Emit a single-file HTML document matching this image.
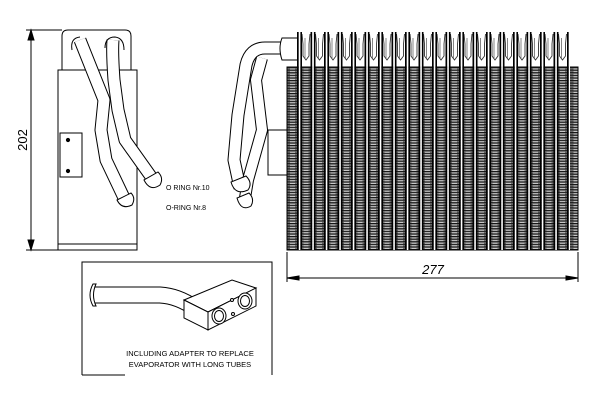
<!DOCTYPE html>
<html><head><style>
html,body{margin:0;padding:0;background:#fff;width:600px;height:400px;overflow:hidden}
svg{display:block}
text{font-family:"Liberation Sans",sans-serif}
</style></head><body>
<svg width="600" height="400" viewBox="0 0 600 400" xmlns="http://www.w3.org/2000/svg">
<defs>
<pattern id="fin" x="287" y="67" width="13.5" height="2.6" patternUnits="userSpaceOnUse">
<rect width="13.5" height="2.6" fill="#6e6e6e"/>
<rect y="0" width="13.5" height="1" fill="#111"/>
<rect x="3" y="1.6" width="5" height="0.9" fill="#ddd"/>
</pattern>
<pattern id="tube" x="297" y="0" width="13.5" height="400" patternUnits="userSpaceOnUse">
<rect x="0" y="0" width="1.8" height="400" fill="#000"/>
<rect x="1.8" y="0" width="1.6" height="400" fill="#fff"/>
<rect x="3.4" y="0" width="1.6" height="400" fill="#000"/>
</pattern>
<pattern id="hdr" x="297" y="32" width="13.5" height="30" patternUnits="userSpaceOnUse">
<path d="M5 2 L6 12 L6 24 L9 28 L12 24 L12 12 L13 2" fill="none" stroke="#333" stroke-width="0.9"/>
<line x1="8" y1="6" x2="8" y2="26" stroke="#777" stroke-width="0.9"/>
</pattern>
</defs>
<!-- LEFT VIEW -->
<g stroke="#000" fill="none" stroke-width="1">
<line x1="31" y1="30" x2="31" y2="250"/>
<path d="M28 40 L31 30 L34 40 Z M28 240 L31 250 L34 240 Z" fill="#000"/>
<line x1="26" y1="30" x2="62" y2="30"/>
<line x1="26" y1="250" x2="58" y2="250"/>
<path d="M62 70 L62 36 Q62 30 68 30 L125 30 Q131 30 131 36 L131 70"/>
<rect x="58" y="70" width="79" height="180" fill="#fff"/>
<line x1="58" y1="244" x2="137" y2="244"/>
<rect x="60" y="133" width="22" height="44"/>
<circle cx="68" cy="140" r="1.6" fill="#000"/>
<circle cx="68" cy="171" r="1.6" fill="#000"/>
</g>
<g fill="none" stroke-linejoin="round" stroke-linecap="butt">
<path d="M113 40 Q112 52 114 80 L118 110 L125 140 L152 178" stroke="#000" stroke-width="13"/>
<path d="M113 40 Q112 52 114 80 L118 110 L125 140 L152 178" stroke="#fff" stroke-width="11"/>
<path d="M80 40 L104 100 L101 130 L106 160 L125 200" stroke="#000" stroke-width="13"/>
<path d="M80 40 L104 100 L101 130 L106 160 L125 200" stroke="#fff" stroke-width="11"/>
<path d="M72 50 Q70 38 80 37 M105 48 Q105 37 115 37 Q124 38 124 50" stroke="#000" stroke-width="1"/>
</g>
<g stroke="#000" fill="#fff" stroke-width="1">
<path d="M144 180 Q150 192 160 185 Q164 178 158 172 Z"/>
<path d="M117 200 Q122 210 132 205 Q136 198 131 193 Z"/>
</g>
<text x="0" y="0" transform="translate(27,140) rotate(-90)" font-size="13" text-anchor="middle" fill="#000">202</text>
<text x="166" y="190" font-size="7" fill="#000">O RING Nr.10</text>
<text x="166" y="210" font-size="7" fill="#000">O-RING Nr.8</text>
<!-- core side tubes -->
<g stroke="#000" fill="none" stroke-width="1">
<rect x="268" y="130" width="20" height="45"/>
</g>
<g fill="none" stroke-linejoin="round">
<path d="M298 48 L265 48 Q250 48 246 65 L238 115 L234 160 L240 188" stroke="#000" stroke-width="13"/>
<path d="M298 48 L265 48 Q250 48 246 65 L238 115 L234 160 L240 188" stroke="#fff" stroke-width="11"/>
<path d="M262 58 L256 80 L262 130 L248 180 L245 198" stroke="#000" stroke-width="12"/>
<path d="M262 58 L256 80 L262 130 L248 180 L245 198" stroke="#fff" stroke-width="10"/>
</g>
<g stroke="#000" fill="#fff" stroke-width="1">
<path d="M282 38 Q278 48 282 60 L298 60 L298 38 Z"/>
<path d="M231 182 Q235 196 248 190 Q253 183 246 176 Z"/>
<path d="M237 198 Q241 212 251 206 Q255 199 249 193 Z"/>
</g>
<!-- core -->
<rect x="287" y="67" width="291" height="183" fill="url(#fin)" stroke="#000" stroke-width="1"/>
<rect x="297" y="32" width="273" height="30" fill="url(#hdr)"/>
<rect x="297" y="32" width="273" height="218" fill="url(#tube)"/>
<!-- dim 277 -->
<g stroke="#000" stroke-width="1">
<line x1="287" y1="252" x2="287" y2="282"/>
<line x1="578" y1="252" x2="578" y2="282"/>
<line x1="287" y1="278" x2="578" y2="278"/>
<path d="M287 278 L299 276 L299 280 Z M578 278 L566 276 L566 280 Z" fill="#000"/>
</g>
<text x="433" y="274" font-size="13" text-anchor="middle" fill="#000" font-style="italic">277</text>
<!-- inset -->
<g stroke="#000" fill="none" stroke-width="1">
<path d="M82 375 L82 262 L272 262 L272 375"/>
<line x1="82" y1="375" x2="125" y2="375"/>
</g>
<g fill="none">
<path d="M92 295 L160 295 Q178 296 195 308" stroke="#000" stroke-width="17"/>
<path d="M92 295 L160 295 Q178 296 195 308" stroke="#fff" stroke-width="15"/>
</g>
<g stroke="#000" fill="#fff" stroke-width="1">
<path d="M93 284 Q87 295 93 306 L96 306 Q91 295 96 284 Z"/>
<path d="M184 300 L232 280 L256 288 L208 312 Z"/>
<path d="M184 300 L208 312 L208 330 L184 318 Z"/>
<path d="M208 312 L256 288 L256 306 L208 330 Z"/>
<ellipse cx="219" cy="316" rx="7" ry="8"/>
<ellipse cx="219" cy="316" rx="4.5" ry="5.5"/>
<ellipse cx="245" cy="301" rx="7" ry="8"/>
<ellipse cx="245" cy="301" rx="4.5" ry="5.5"/>
<circle cx="232" cy="300" r="1.5"/>
<circle cx="233" cy="314" r="1.5"/>
</g>
<text x="190" y="356" font-size="7.5" text-anchor="middle" fill="#000">INCLUDING ADAPTER TO REPLACE</text>
<text x="190" y="367" font-size="7.5" text-anchor="middle" fill="#000">EVAPORATOR WITH LONG TUBES</text>
</svg>
</body></html>
